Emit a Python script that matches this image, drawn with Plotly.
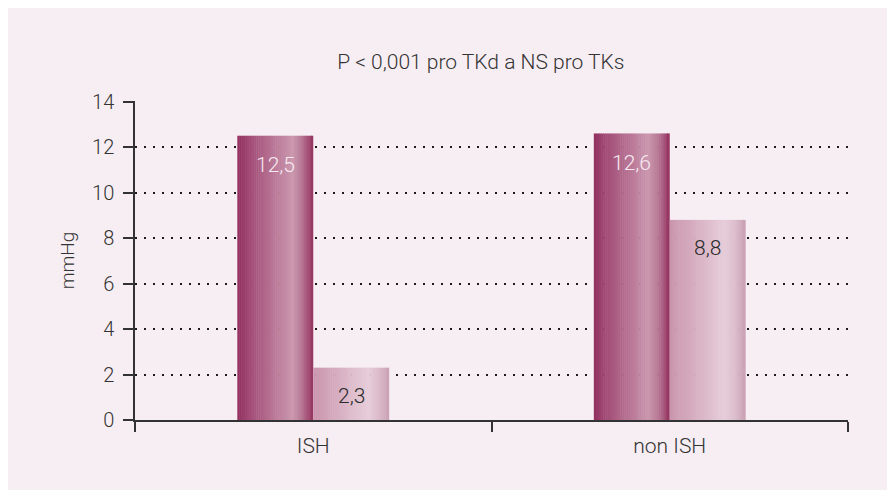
import plotly.graph_objects as go

# ---- data ----
categories = ["ISH", "non ISH"]
tkd_values = [12.5, 12.6]   # dark bars
tks_values = [2.3, 8.8]     # light bars
tkd_labels = ["12,5", "12,6"]
tks_labels = ["2,3", "8,8"]
y_ticks = [0, 2, 4, 6, 8, 10, 12, 14]

title_text = "P < 0,001 pro TKd a NS pro TKs"
y_title = "mmHg"

FONT = "Roboto"
TEXT = "#333333"
BG = "#f7eef3"


def hex2rgb(h):
    h = h.lstrip("#")
    return tuple(int(h[i:i + 2], 16) for i in (0, 2, 4))


def grad(stops, t):
    for (p0, c0), (p1, c1) in zip(stops, stops[1:]):
        if p0 <= t <= p1:
            f = (t - p0) / (p1 - p0) if p1 > p0 else 0
            a, b = hex2rgb(c0), hex2rgb(c1)
            return "rgb(%d,%d,%d)" % tuple(round(a[k] + (b[k] - a[k]) * f) for k in range(3))
    return stops[-1][1]


dark_stops = [(0.0, "#922f5e"), (0.15, "#a14a75"), (0.72, "#ca97ae"), (0.84, "#b97a97"), (1.0, "#94315f")]
light_stops = [(0.0, "#c995ad"), (0.72, "#e6cdd9"), (0.86, "#dcbccb"), (1.0, "#c9a0b4")]

bar_w = 0.213
N = 40
fig = go.Figure()


def add_gradient_bar(values, start, stops):
    sw = bar_w / N
    for i in range(N):
        t = (i + 0.5) / N
        fig.add_trace(go.Bar(
            x=categories, y=values,
            width=sw * 1.25 if i < N - 1 else sw, offset=start + i * sw,
            marker=dict(color=grad(stops, t), line=dict(width=0)),
            showlegend=False, hoverinfo="skip",
        ))


add_gradient_bar(tkd_values, -bar_w, dark_stops)
add_gradient_bar(tks_values, 0.0, light_stops)

annotations = []
for i, (v, lab) in enumerate(zip(tkd_values, tkd_labels)):
    annotations.append(dict(x=i - bar_w / 2, y=v, xref="x", yref="y", text=lab,
                            showarrow=False, yshift=-29,
                            font=dict(family=FONT, size=21, color="#f6eaf0", weight=300)))
for i, (v, lab) in enumerate(zip(tks_values, tks_labels)):
    annotations.append(dict(x=i + bar_w / 2, y=v, xref="x", yref="y", text=lab,
                            showarrow=False, yshift=-28,
                            font=dict(family=FONT, size=21, color="#2a2a2a", weight=300)))

fig.update_layout(
    width=879, height=482,
    margin=dict(l=127, r=39, t=93, b=70),
    paper_bgcolor=BG,
    plot_bgcolor=BG,
    barmode="overlay",
    font=dict(family=FONT, color=TEXT, weight=300),
    title=dict(text=title_text, x=0.485, xref="paper", y=1 - 54 / 482, yref="container",
               xanchor="center", yanchor="middle",
               font=dict(family=FONT, size=21, color=TEXT, weight=300)),
    annotations=annotations,
    xaxis=dict(
        type="category", range=[-0.5, 1.5],
        showline=True, linecolor="#333333", linewidth=1.5,
        ticks="outside", ticklen=10, tickwidth=1.5, tickcolor="#333333",
        tickson="boundaries", showgrid=False,
        tickfont=dict(family=FONT, size=21, color=TEXT, weight=300),
        ticklabelstandoff=6,
    ),
    yaxis=dict(
        range=[0, 14.03], tickvals=y_ticks, ticktext=[str(t) for t in y_ticks],
        showline=True, linecolor="#333333", linewidth=1.5,
        ticks="outside", ticklen=10, tickwidth=1.5, tickcolor="#333333",
        showgrid=True, gridcolor="#1a1a1a", gridwidth=2, griddash="2px,7px",
        zeroline=False,
        tickfont=dict(family=FONT, size=20, color=TEXT, weight=300),
        ticklabelstandoff=5,
        title=dict(text=y_title, standoff=12,
                   font=dict(family=FONT, size=19, color=TEXT, weight=300)),
    ),
)

fig.write_html("out.html",
               post_script="document.body.style.margin='8px 0 0 8px';"
                           "document.documentElement.style.overflow='hidden';")
